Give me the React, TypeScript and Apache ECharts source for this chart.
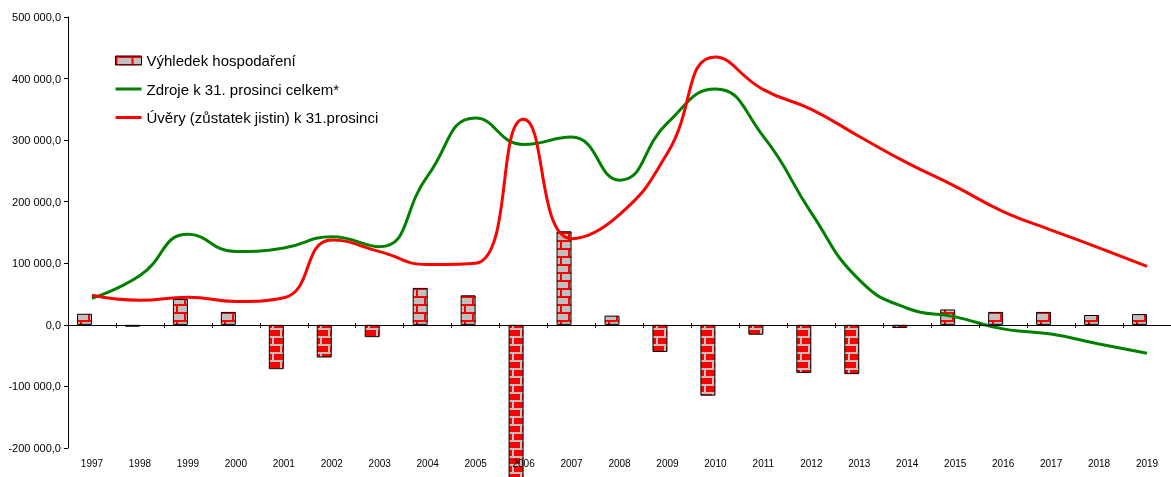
import React, { useEffect, useRef } from "react";
import * as echarts from "echarts";

const years = ["1997","1998","1999","2000","2001","2002","2003","2004","2005","2006","2007","2008","2009","2010","2011","2012","2013","2014","2015","2016","2017","2018","2019"];
const vysledek = [18000, -3000, 42000, 21000, -72000, -53000, -20000, 60000, 48000, -260000, 152000, 15000, -44000, -115000, -16000, -78000, -80000, -5000, 25000, 21000, 21000, 16000, 17500];
const zdroje = [43000, 80000, 147000, 119000, 125000, 143000, 127000, 242000, 336000, 293000, 305000, 235000, 328000, 383000, 306000, 182000, 73000, 27000, 13000, -6500, -15000, -31000, -46000];
const uvery = [48000, 40000, 45000, 38000, 44000, 138000, 119000, 98000, 100000, 334000, 140000, 179000, 279000, 435000, 382000, 350000, 306000, 263000, 225000, 184000, 154000, 125000, 95000];

const NAME_BAR = "Výhledek hospodaření";
const NAME_G = "Zdroje k 31. prosinci celkem*";
const NAME_R = "Úvěry (zůstatek jistin) k 31.prosinci";
const FONT = "'Liberation Sans', Arial, sans-serif";

function makeBrick(bg: string, line: string) {
  const c = document.createElement("canvas");
  c.width = 16;
  c.height = 16;
  const ctx = c.getContext("2d")!;
  ctx.fillStyle = bg;
  ctx.fillRect(0, 0, 16, 16);
  ctx.fillStyle = line;
  ctx.fillRect(0, 0, 16, 2);
  ctx.fillRect(0, 8, 16, 2);
  ctx.fillRect(0, 2, 2, 6);
  ctx.fillRect(8, 10, 2, 6);
  return c;
}

function fmt(v: number) {
  const neg = v < 0;
  const s = Math.abs(Math.round(v)).toString().replace(/\B(?=(\d{3})+(?!\d))/g, " ");
  return (neg ? "-" : "") + s + ",0";
}

export default function App() {
  const ref = useRef<HTMLDivElement>(null);
  useEffect(() => {
    if (!ref.current) return;
    const chart = echarts.init(ref.current, undefined, { renderer: "svg" });
    const pos = makeBrick("#c0c0c0", "#ff0000");
    const neg = makeBrick("#ff0000", "#c0c0c0");
    const posColor: any = { image: pos, repeat: "repeat" };
    const negColor: any = { image: neg, repeat: "repeat" };
    chart.setOption({
      animation: false,
      grid: { left: 68, top: 17, width: 1111, bottom: 29, containLabel: false },
      legend: {
        data: [
          { name: NAME_BAR, icon: "rect", itemStyle: { borderWidth: 1, borderColor: "#000" } },
          { name: NAME_G, itemStyle: { opacity: 0 }, lineStyle: { width: 3, color: "#008000" } },
          { name: NAME_R, itemStyle: { opacity: 0 }, lineStyle: { width: 3, color: "#ff0000" } },
        ],
        orient: "vertical",
        left: 114,
        top: 53,
        padding: 0,
        itemWidth: 26,
        itemHeight: 9,
        itemGap: 13.5,
        textStyle: { fontFamily: FONT, fontSize: 15, color: "#000", lineHeight: 15 },
      },
      xAxis: [
        {
          type: "category",
          data: years,
          position: "bottom",
          axisLine: { show: true, onZero: true, onZeroAxisIndex: 0, lineStyle: { color: "#000", width: 1 } },
          axisTick: { show: true, length: 3, lineStyle: { color: "#000" } },
          axisLabel: { show: false },
          splitLine: { show: false },
          z: 5,
        },
        {
          type: "category",
          data: years,
          position: "bottom",
          axisLine: { show: false, onZero: true, onZeroAxisIndex: 0 },
          axisTick: { show: true, inside: true, length: 2, lineStyle: { color: "#000" } },
          axisLabel: { show: false },
          splitLine: { show: false },
          z: 5,
        },
        {
          type: "category",
          data: years,
          position: "bottom",
          axisLine: { show: false, onZero: false },
          axisTick: { show: false },
          axisLabel: { show: true, margin: 10, fontFamily: FONT, fontSize: 10, color: "#000" },
          splitLine: { show: false },
          z: 10,
        },
      ],
      yAxis: {
        type: "value",
        min: -200000,
        max: 500000,
        interval: 100000,
        axisLine: { show: true, lineStyle: { color: "#000", width: 1 } },
        axisTick: { show: true, length: 4, lineStyle: { color: "#000" } },
        axisLabel: { margin: 7, fontFamily: FONT, fontSize: 11, color: "#000", formatter: (v: number) => fmt(v) },
        splitLine: { show: false },
      },
      series: [
        {
          name: NAME_BAR,
          type: "bar",
          xAxisIndex: 0,
          barWidth: 15,
          barGap: "0%",
          clip: false,
          itemStyle: { color: posColor, borderColor: "#000", borderWidth: 1 },
          data: vysledek.map((v) => (v < 0 ? { value: v, itemStyle: { color: negColor, borderColor: "#000", borderWidth: 1 } } : v)),
          z: 2,
        },
        {
          name: "_spacer",
          type: "bar",
          xAxisIndex: 0,
          barWidth: 15,
          barGap: "0%",
          data: years.map(() => "-"),
        },
        {
          name: NAME_G,
          type: "line",
          xAxisIndex: 0,
          data: zdroje,
          smooth: 0.5,
          symbol: "none",
          lineStyle: { color: "#008000", width: 3 },
          itemStyle: { color: "#008000" },
          z: 3,
        },
        {
          name: NAME_R,
          type: "line",
          xAxisIndex: 0,
          data: uvery,
          smooth: 0.5,
          symbol: "none",
          lineStyle: { color: "#ff0000", width: 3 },
          itemStyle: { color: "#ff0000" },
          z: 4,
        },
      ],
    });
    return () => chart.dispose();
  }, []);
  return <div ref={ref} style={{ position: "fixed", left: 0, top: 0, width: 1171, height: 477 }} />;
}
